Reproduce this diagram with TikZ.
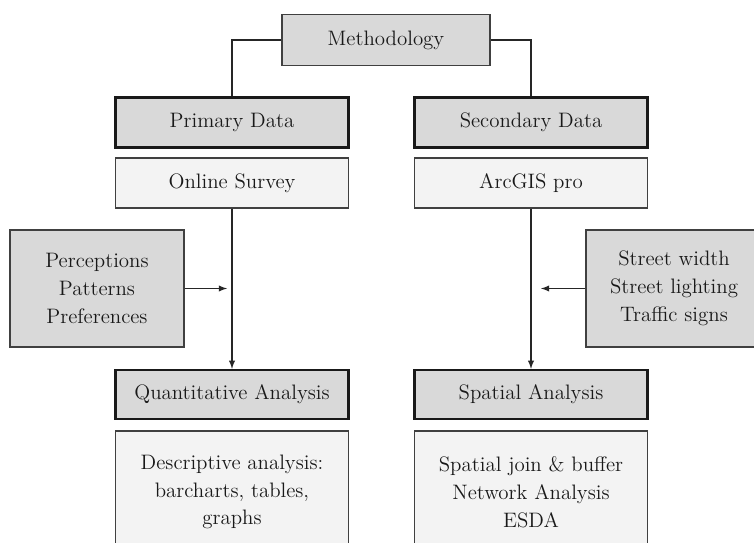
\documentclass[tikz,border=0pt]{standalone}
\usetikzlibrary{arrows, positioning}

\begin{document}
\begin{tikzpicture}[x=0.02cm, y=-0.02cm,
            every node/.style={font=\fontsize{11.9}{15.8}\selectfont, align=center, text=black!90},
            darkbox/.style={draw=black!75, line width=0.6pt, fill=boxgray, minimum width=233*0.02cm, minimum height=50*0.02cm},
            headbox/.style={darkbox, draw=black!90, line width=1.4pt},
            lightbox/.style={darkbox, fill=boxlight},
            sidebox/.style={darkbox, minimum width=174*0.02cm, minimum height=117*0.02cm},
            link/.style={draw=black!85, line width=0.6pt}]
            % Цвета
            \definecolor{boxgray}{RGB}{217,217,217}
            \definecolor{boxlight}{RGB}{243,243,243}

            \useasboundingbox (0,0) rectangle (754,543);

            % Вершина
            \node[darkbox, minimum width=208*0.02cm, minimum height=51*0.02cm] (meth) at (386,40) {Methodology};

            % Данные
            \node[headbox] (prim) at (232,122.5) {Primary Data};
            \node[lightbox] (survey) at (232,183) {Online Survey};
            \node[headbox] (sec) at (531,122.5) {Secondary Data};
            \node[lightbox] (arcgis) at (531,183) {ArcGIS pro};

            % Боковые блоки
            \node[sidebox] (percep) at (97,288.5) {Perceptions\\Patterns\\Preferences};
            \node[sidebox, minimum width=176*0.02cm] (street) at (674,288.5) {Street width\\Street lighting\\Traffic signs};
            \coordinate (pin) at (227,288.5);
            \coordinate (sin) at (541,288.5);

            % Анализ
            \node[headbox, minimum height=49*0.02cm] (quant) at (232,394.5) {Quantitative Analysis};
            \node[lightbox, minimum height=122*0.02cm] (desc) at (232,492) {Descriptive analysis:\\barcharts, tables,\\graphs};
            \node[headbox, minimum height=49*0.02cm] (spat) at (531,394.5) {Spatial Analysis};
            \node[lightbox, minimum height=122*0.02cm] (sjoin) at (531,492) {Spatial join \& buffer\\Network Analysis\\ESDA};

            % Линии
            \draw[link] (meth.west) -| (prim.north);
            \draw[link] (meth.east) -| (sec.north);
            \draw[link, -latex] (survey.south) -- (quant.north);
            \draw[link, -latex] (arcgis.south) -- (spat.north);
            \draw[link, -latex] (percep.east) -- (pin);
            \draw[link, -latex] (street.west) -- (sin);
        \end{tikzpicture}
\end{document}
